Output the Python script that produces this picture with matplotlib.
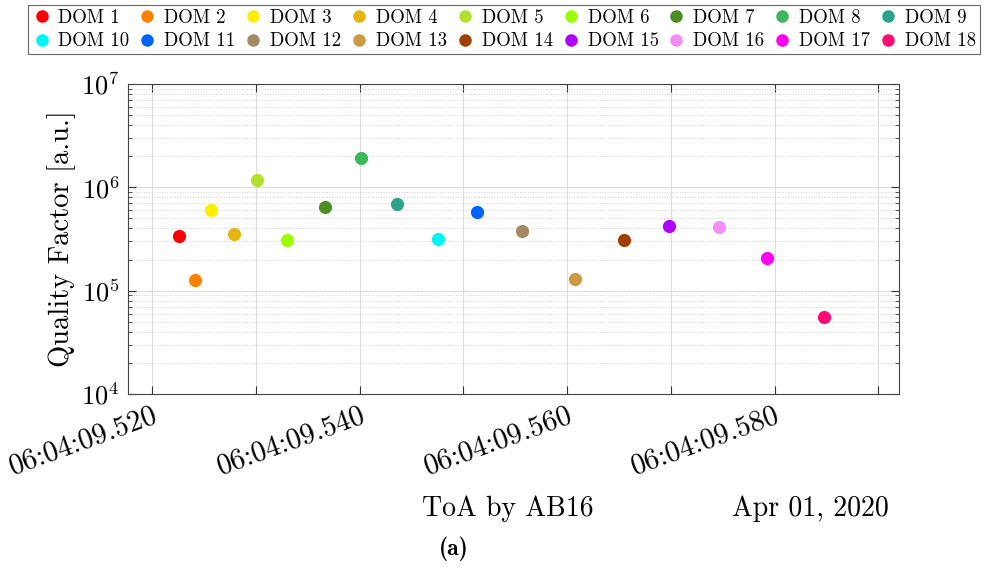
import matplotlib
matplotlib.use("Agg")
import matplotlib.pyplot as plt
from matplotlib.ticker import FuncFormatter, LogLocator, MultipleLocator, NullFormatter

plt.rcParams['font.family'] = 'serif'
plt.rcParams['font.serif'] = ['cmr10']
plt.rcParams['mathtext.fontset'] = 'cm'
plt.rcParams['axes.formatter.use_mathtext'] = True

# ToA in ms after 06:04:09 (Apr 01, 2020) and quality factor per DOM
doms = [f'DOM {i}' for i in range(1, 19)]
toa_ms = [522.60, 524.12, 525.66, 527.85, 530.13, 533.00, 536.66, 540.11, 543.61,
          547.53, 551.33, 555.60, 560.75, 565.44, 569.82, 574.67, 579.28, 584.78]
qfactor = [3.38e5, 1.28e5, 5.99e5, 3.51e5, 1.19e6, 3.12e5, 6.50e5, 1.94e6, 6.85e5,
           3.14e5, 5.82e5, 3.81e5, 1.30e5, 3.07e5, 4.23e5, 4.14e5, 2.07e5, 5.60e4]
colors = ['#ff0000', '#ff8000', '#ffee00', '#e6b511', '#b3e02a', '#99ff00',
          '#4b8f22', '#3cb85c', '#2ba38a', '#00f5f5', '#0062ff', '#a38a62',
          '#cc9944', '#a04000', '#b000ff', '#f48ef4', '#ff00f0', '#ff0a74']

fig = plt.figure(figsize=(9.97, 5.67), dpi=100)
ax = fig.add_axes([128 / 997, 1 - 394 / 567, 771 / 997, 310 / 567])

handles = []
for name, x, q, c in zip(doms, toa_ms, qfactor, colors):
    h, = ax.plot(x, q, 'o', color=c, markersize=9.5, markeredgewidth=0, label=name)
    handles.append(h)

ax.set_yscale('log')
ax.set_ylim(1e4, 1e7)
ax.set_xlim(517.65, 592.0)

# ticks every 10 ms, labels every 20 ms
ax.xaxis.set_major_locator(MultipleLocator(10))
ax.xaxis.set_major_formatter(FuncFormatter(
    lambda v, p: f'06:04:09.{int(round(v)):03d}' if int(round(v)) % 20 == 0 else ''))
ax.yaxis.set_major_locator(LogLocator(base=10, numticks=10))
ax.yaxis.set_minor_locator(LogLocator(base=10, subs=range(2, 10), numticks=20))
ax.yaxis.set_minor_formatter(NullFormatter())

ax.tick_params(which='both', direction='in', top=True, right=True, color='#333333')
ax.tick_params(which='major', length=6)
ax.tick_params(which='minor', length=3)
ax.tick_params(axis='y', labelsize=19, pad=6)
ax.tick_params(axis='x', labelsize=21, pad=6)
for lbl in ax.get_xticklabels():
    lbl.set_rotation(20)
    lbl.set_ha('right')
    lbl.set_rotation_mode('anchor')

ax.grid(True, which='major', color='#dcdcdc', linewidth=0.8)
ax.grid(True, which='minor', axis='y', color='#d0d0d0', linestyle=':', linewidth=0.7)
ax.set_axisbelow(True)
for s in ax.spines.values():
    s.set_color('#444444')
    s.set_linewidth(0.8)

ax.set_ylabel('Quality Factor [a.u.]', fontsize=20.5, labelpad=4)
fig.text(508 / 997, 1 - 509 / 567, 'ToA by AB16', fontsize=20, ha='center', va='center')
fig.text(889 / 997, 1 - 509 / 567, 'Apr 01, 2020', fontsize=20, ha='right', va='center')
fig.text(454 / 997, 1 - 549 / 567, '(a)', fontsize=17, family='cmb10',
         ha='center', va='center')

# legend filled row by row (2 rows x 9 columns)
order = [i + 9 * r for i in range(9) for r in range(2)]
leg = fig.legend([handles[k] for k in order], [doms[k] for k in order],
                 loc='upper center', bbox_to_anchor=(504 / 997, 1 - 5 / 567), ncol=9,
                 fontsize=13.5, frameon=True, fancybox=False, edgecolor='#444444',
                 handletextpad=0.4, columnspacing=0.45, borderpad=0.2,
                 borderaxespad=0, labelspacing=0.3, handlelength=1.0, markerscale=0.95)
leg.get_frame().set_linewidth(0.8)

fig.savefig('out.png', dpi=100)
